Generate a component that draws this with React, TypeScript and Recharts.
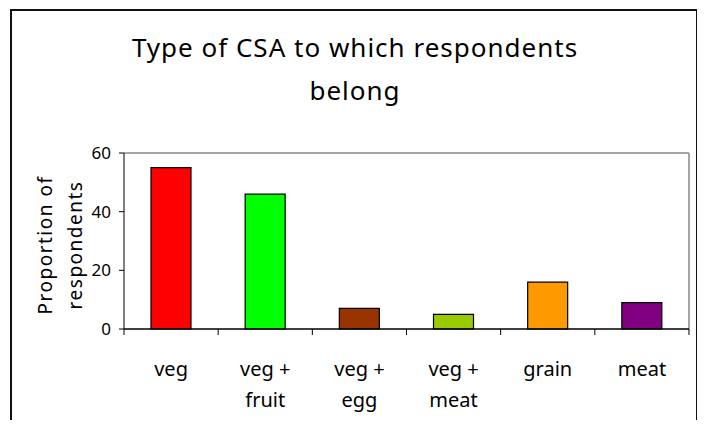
import { BarChart, Bar, XAxis, YAxis, Cell, ReferenceLine } from "recharts";

const categories = ["veg", "veg + fruit", "veg + egg", "veg + meat", "grain", "meat"];
const proportions = [55, 46, 7, 5, 16, 9];
const barColors = ["#FF0000", "#00FF00", "#993300", "#99CC00", "#FF9900", "#800080"];
const yTicks = [0, 20, 40, 60];

// categories sit at i + 0.5 on a numeric axis so that tick marks can go on the boundaries
const data = categories.map((name, i) => ({ name, pos: i + 0.5, value: proportions[i] }));
const xTicks = [0, ...data.flatMap((d, i) => [d.pos, i + 1])];

const FONT = "'Noto Sans', sans-serif";

// "veg + fruit" -> ["veg +", "fruit"]
function splitLabel(name: string) {
  if (!name.includes(" + ")) return [name];
  const [a, b] = name.split(" + ");
  return [a + " +", b];
}

function CategoryTick({ x, y, payload }: any) {
  const v = payload.value;
  if (Number.isInteger(v)) {
    return <line x1={x} x2={x} y1={y} y2={y + 6} stroke="#000" strokeWidth={1} />;
  }
  const lines = splitLabel(categories[Math.floor(v)]);
  return (
    <text x={x} y={y} textAnchor="middle" fontSize={20} fill="#000" fontFamily={FONT}>
      {lines.map((l, i) => (
        <tspan key={i} x={x} dy={i === 0 ? 47 : 31}>
          {l}
        </tspan>
      ))}
    </text>
  );
}

function YLabel() {
  return (
    <text textAnchor="middle" fontSize={19} fill="#000" fontFamily={FONT} letterSpacing={1.5}
      transform="translate(52, 245) rotate(-90)">
      <tspan x={0} dy={0}>Proportion of</tspan>
      <tspan x={0} dy={30}>respondents</tspan>
    </text>
  );
}

export default function App() {
  return (
    <div style={{ position: "relative", width: 705, height: 428, margin: -8, overflow: "hidden", background: "#fff" }}>
      <div
        style={{
          position: "absolute", left: 10, top: 9, width: 688, height: 440,
          border: "2px solid #111", boxSizing: "border-box",
        }}
      />
      <div
        style={{
          position: "absolute", left: 0, top: 26, width: 710, textAlign: "center",
          fontFamily: FONT, fontSize: 26, lineHeight: "43px", color: "#000", letterSpacing: 1,
        }}
      >
        Type of CSA to which respondents
        <br />
        belong
      </div>
      <div style={{ position: "absolute", left: 0, top: 0 }}>
        <BarChart width={705} height={428} data={data} margin={{ top: 153, right: 16, left: 64, bottom: 39 }}>
          <XAxis
            dataKey="pos"
            type="number"
            domain={[0, 6]}
            ticks={xTicks}
            interval={0}
            tickLine={false}
            tickSize={0}
            tickMargin={0}
            tick={<CategoryTick />}
            axisLine={{ stroke: "#000", strokeWidth: 1.5 }}
            height={60}
          />
          <YAxis
            domain={[0, 60]}
            ticks={yTicks}
            tickSize={5}
            tickMargin={8}
            stroke="#000"
            tick={{ fontSize: 17, fill: "#000", fontFamily: FONT }}
            width={60}
            label={<YLabel />}
          />
          <ReferenceLine y={60} stroke="#888" strokeWidth={1.5} />
          <ReferenceLine x={6} stroke="#888" strokeWidth={1.5} />
          <Bar dataKey="value" barSize={40} stroke="#000" strokeWidth={1.2} isAnimationActive={false}>
            {data.map((d, i) => (
              <Cell key={d.name} fill={barColors[i]} />
            ))}
          </Bar>
        </BarChart>
      </div>
    </div>
  );
}
